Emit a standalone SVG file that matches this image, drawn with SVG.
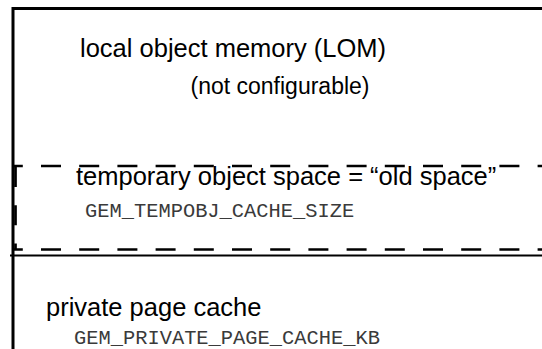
<svg xmlns="http://www.w3.org/2000/svg" width="542" height="349" viewBox="0 0 542 349">
<style>
.sans{font-family:"Liberation Sans",Arial,sans-serif;fill:#000}
.mono{font-family:"Liberation Mono","Courier New",monospace;fill:#3a3a3a;font-size:20.4px}
.solid{stroke:#000;fill:none}
.dash{stroke:#000;fill:none;stroke-width:2.7;stroke-dasharray:20 18.2}
</style>
<rect width="542" height="349" fill="#fff"/>
<g id="connectors">
<path class="solid" stroke-width="3" d="M13 349V8.5H542"/>
<path class="solid" stroke-width="2" d="M10 255.5H542"/>
</g>
<g id="lom">
<text class="sans" x="80" y="56.5" font-size="25.5">local object memory (LOM)</text>
<text class="sans" x="190.5" y="94" font-size="23">(not configurable)</text>
</g>
<g id="tempobj">
<path class="dash" stroke-dashoffset="9.2" d="M12 166H542"/>
<path class="dash" stroke-dashoffset="9.2" d="M12 249.5H542"/>
<path class="dash" stroke-dasharray="40 4" d="M15.5 167V249"/>
<text class="sans" x="76" y="185" font-size="25.5">temporary object space = “old space”</text>
<text class="mono" x="85" y="217.3">GEM_TEMPOBJ_CACHE_SIZE</text>
</g>
<g id="ppc">
<text class="sans" x="46" y="316" font-size="25.5">private page cache</text>
<text class="mono" x="74" y="343.5">GEM_PRIVATE_PAGE_CACHE_KB</text>
</g>
</svg>
